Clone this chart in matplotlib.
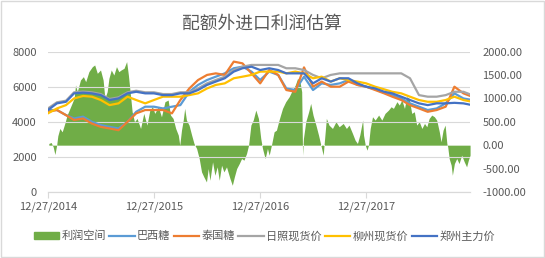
import pandas as pd
import matplotlib
matplotlib.use("Agg")
import matplotlib.pyplot as plt
import matplotlib.dates as mdates
from matplotlib.patches import Patch, Rectangle
from matplotlib.lines import Line2D

plt.rcParams['font.family'] = ['Noto Sans CJK SC', 'DejaVu Sans']

# ---- 价格序列（月度，左轴）----
price_dates = pd.date_range("2014-12-27", periods=49, freq=pd.DateOffset(months=1))

brazil = [4670, 4670, 4380, 4190, 4290, 4000, 3810, 3710, 3620, 4000, 4570, 4860, 4860,
          4760, 4860, 4950, 5710, 6100, 6380, 6570, 6760, 7050, 7140, 6860, 6380,
          6860, 6670, 5900, 5810, 6570, 5810, 6190, 6100, 6190, 6380, 6100, 6000,
          5850, 5660, 5520, 5330, 5050, 4860, 4670, 4760, 5050, 5620, 5330, 5240]
thai = [4570, 4670, 4380, 4100, 4190, 3900, 3710, 3620, 3520, 4000, 4480, 4670, 4670,
        4670, 4480, 5240, 5900, 6380, 6670, 6760, 6670, 7430, 7330, 6760, 6190,
        6950, 6670, 5810, 5710, 7100, 6000, 6290, 6000, 6000, 6290, 6100, 6000,
        5810, 5620, 5430, 5240, 4950, 4760, 4570, 4670, 4860, 6000, 5620, 5430]
rizhao = [4760, 5110, 5200, 5680, 5720, 5680, 5580, 5300, 5390, 5680, 5770, 5680, 5680,
          5580, 5580, 5680, 5680, 5900, 6190, 6380, 6570, 6950, 7140, 7240, 7240,
          7240, 7240, 7050, 7050, 6950, 6670, 6480, 6670, 6760, 6760, 6760, 6760,
          6760, 6760, 6760, 6760, 6480, 5520, 5430, 5430, 5520, 5710, 5710, 5520]
liuzhou = [4480, 4760, 4950, 5330, 5470, 5430, 5240, 4950, 5050, 5430, 5240, 5050, 5240,
           5430, 5430, 5430, 5520, 5620, 5900, 6100, 6190, 6480, 6570, 6670, 6860,
           6860, 6860, 6760, 6860, 6760, 6480, 6570, 6290, 6480, 6380, 6290, 6190,
           6000, 5850, 5710, 5620, 5430, 5240, 5140, 5140, 5240, 5430, 5240, 5140]
zhengzhou = [4670, 5050, 5140, 5620, 5660, 5620, 5520, 5240, 5330, 5620, 5710, 5620, 5620,
             5520, 5520, 5620, 5620, 5810, 6100, 6290, 6480, 6860, 7050, 7140, 6950,
             7050, 6950, 6760, 6760, 6760, 6190, 6480, 6290, 6480, 6480, 6190, 6000,
             5900, 5710, 5620, 5430, 5240, 5050, 4950, 5050, 5050, 5080, 5050, 4950]

# ---- 利润空间（右轴）----
profit_dates = pd.to_datetime([
    "2014-12-30", "2015-01-07", "2015-01-14", "2015-01-20", "2015-01-26", "2015-01-30",
    "2015-02-06", "2015-02-14", "2015-02-23", "2015-03-03", "2015-03-15", "2015-03-27",
    "2015-04-01", "2015-04-07", "2015-04-18", "2015-04-28", "2015-05-06", "2015-05-17",
    "2015-05-29", "2015-06-06", "2015-06-15", "2015-06-26", "2015-07-05", "2015-07-11",
    "2015-07-19", "2015-07-25", "2015-08-02", "2015-08-11", "2015-08-20", "2015-08-28",
    "2015-09-05", "2015-09-15", "2015-09-24", "2015-09-30", "2015-10-06", "2015-10-13",
    "2015-10-21", "2015-10-30", "2015-11-11", "2015-11-22", "2015-12-03", "2015-12-13",
    "2015-12-22", "2015-12-30", "2016-01-11", "2016-01-22", "2016-02-03", "2016-02-14",
    "2016-02-22", "2016-03-02", "2016-03-11", "2016-03-20", "2016-03-25", "2016-03-31",
    "2016-04-06", "2016-04-11", "2016-04-17", "2016-04-26", "2016-05-05", "2016-05-13",
    "2016-05-22", "2016-05-31", "2016-06-08", "2016-06-16", "2016-06-25", "2016-07-01",
    "2016-07-07", "2016-07-16", "2016-07-24", "2016-08-01", "2016-08-08", "2016-08-16",
    "2016-08-24", "2016-09-02", "2016-09-14", "2016-09-22", "2016-09-29", "2016-10-07",
    "2016-10-16", "2016-10-24", "2016-11-01", "2016-11-10", "2016-11-17", "2016-11-25",
    "2016-12-03", "2016-12-12", "2016-12-21", "2016-12-29", "2017-01-04", "2017-01-13",
    "2017-01-21", "2017-01-27", "2017-02-05", "2017-02-13", "2017-02-21", "2017-03-02",
    "2017-03-14", "2017-03-25", "2017-04-06", "2017-04-17", "2017-04-27", "2017-05-05",
    "2017-05-13", "2017-05-19", "2017-05-22", "2017-05-25", "2017-06-02", "2017-06-12",
    "2017-06-19", "2017-06-27", "2017-07-07", "2017-07-16", "2017-07-24", "2017-08-01",
    "2017-08-07", "2017-08-12", "2017-08-21", "2017-09-02", "2017-09-14", "2017-09-25",
    "2017-10-09", "2017-10-20", "2017-10-29", "2017-11-10", "2017-11-19", "2017-11-27",
    "2017-12-05", "2017-12-15", "2017-12-18", "2017-12-24", "2017-12-30", "2018-01-04",
    "2018-01-10", "2018-01-18", "2018-01-27", "2018-02-08", "2018-02-19", "2018-03-02",
    "2018-03-14", "2018-03-23", "2018-03-31", "2018-04-12", "2018-04-20", "2018-04-29",
    "2018-05-08", "2018-05-16", "2018-05-24", "2018-06-02", "2018-06-11", "2018-06-19",
    "2018-06-28", "2018-07-07", "2018-07-16", "2018-07-24", "2018-08-01", "2018-08-10",
    "2018-08-19", "2018-08-27", "2018-09-05", "2018-09-11", "2018-09-18", "2018-09-25",
    "2018-10-01", "2018-10-04", "2018-10-09", "2018-10-16", "2018-10-20", "2018-10-27",
    "2018-11-04", "2018-11-12", "2018-11-21", "2018-11-30", "2018-12-08", "2018-12-14",
    "2018-12-20"])
profit = [36, 57, -36, -200, 0, 200,
          357, 285, 464, 643, 821, 1000,
          1286, 1143, 1393, 1464, 1357, 1571,
          1678, 1714, 1536, 1607, 1393, 1000,
          1143, 1429, 1607, 1500, 1678, 1571,
          1607, 1643, 1786, 1500, 1143, 714,
          500, 571, 357, 679, 429, 750,
          821, 679, 821, 607, 929, 964,
          643, 571, 357, 214, 0, 321,
          536, 786, 536, 429, 214, 36,
          -71, -286, -571, -679, -786, -500,
          -750, -357, -643, -464, -750, -429,
          -571, -464, -714, -857, -679, -500,
          -393, -286, -321, -179, 0, 429,
          536, 750, 571, 143, -71, -286,
          -71, -214, 36, 286, 321, 536,
          786, 929, 1036, 1179, 1286, 1429,
          1357, 1143, -214, 143, 500, 714,
          893, 643, 429, 214, 0, -214,
          214, 571, 429, 357, 500, 393,
          464, 357, 429, 250, 107, 36,
          214, 536, 214, 0, -107, 0,
          357, 607, 536, 643, 536, 679,
          750, 821, 786, 929, 857, 964,
          786, 1036, 1000, 679, 714, 429,
          500, 357, 464, 393, 571, 643,
          607, 536, 286, 71, 321, 429,
          36, -36, -286, -429, -643, -393,
          -286, -393, -214, -357, -464, -321,
          -214]

tick_dates = pd.to_datetime(["2014-12-27", "2015-12-27", "2016-12-27", "2017-12-27"])

text_color = "#595959"
grid_color = "#D9D9D9"

fig = plt.figure(figsize=(5.45, 2.58), dpi=100)
ax = fig.add_axes([0.088, 0.256, 0.774, 0.544])
ax2 = ax.twinx()

# 面积放在次坐标轴，折线画在其上
ax2.fill_between(profit_dates, profit, 0, color="#70AD47", lw=0)
ax.set_zorder(ax2.get_zorder() + 1)
ax.patch.set_visible(False)

series = [("巴西糖", brazil, "#5B9BD5"),
          ("泰国糖", thai, "#ED7D31"),
          ("日照现货价", rizhao, "#A5A5A5"),
          ("柳州现货价", liuzhou, "#FFC000"),
          ("郑州主力价", zhengzhou, "#4472C4")]
for name, vals, c in series:
    ax.plot(price_dates, vals, color=c, lw=1.6, solid_joinstyle="round")

ax.set_ylim(0, 8000)
ax.set_yticks(range(0, 8001, 2000))
ax2.set_ylim(-1000, 2000)
ax2.set_yticks(range(-1000, 2001, 500))
ax2.set_yticklabels([f"{v:.2f}" for v in range(-1000, 2001, 500)])

ax.set_xlim(pd.Timestamp("2014-12-27"), pd.Timestamp("2018-12-19"))
ax.set_xticks(tick_dates)
ax.xaxis.set_major_formatter(mdates.DateFormatter("%m/%d/%Y"))

ax.grid(axis="y", color=grid_color, lw=0.8)
ax.set_axisbelow(True)
for a in (ax, ax2):
    for s in ("top", "left", "right"):
        a.spines[s].set_visible(False)
    a.spines["bottom"].set_color(grid_color)
    a.tick_params(colors=text_color, labelsize=8, length=0)
ax.tick_params(axis="x", length=4, color=grid_color, pad=3)
ax.tick_params(axis="y", pad=8)
ax2.tick_params(axis="y", pad=9)

fig.text(0.48, 0.91, "配额外进口利润估算", ha="center", va="center",
         fontsize=12.8, color=text_color)

handles = [Patch(color="#70AD47", label="利润空间")]
handles += [Line2D([], [], color=c, lw=1.6, label=name) for name, _, c in series]
fig.legend(handles=handles, loc="center", bbox_to_anchor=(0.485, 0.085), ncol=6,
           frameon=False, fontsize=8, handlelength=2.3, handletextpad=0.2,
           columnspacing=0.3, labelcolor=text_color)

fig.add_artist(Rectangle((0.002, 0.004), 0.996, 0.992, transform=fig.transFigure,
                         fill=False, edgecolor=grid_color, lw=1))

fig.savefig("out.png", dpi=100)
